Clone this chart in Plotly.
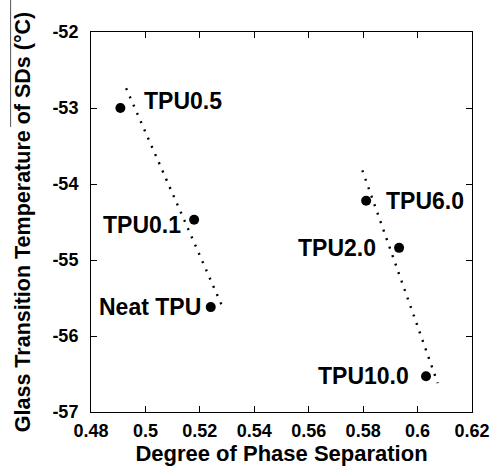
import plotly.graph_objects as go

# Data
sample_names = ["TPU0.5", "TPU0.1", "Neat TPU", "TPU6.0", "TPU2.0", "TPU10.0"]
phase_sep = [0.4908, 0.5179, 0.5240, 0.5811, 0.5932, 0.6031]
tg_sd = [-53.00, -54.47, -55.62, -54.22, -54.84, -56.53]

# Trend lines (two groups)
trend1_x = [0.4929, 0.5286]
trend1_y = [-52.74, -55.64]
trend2_x = [0.5797, 0.6074]
trend2_y = [-53.82, -56.62]

x_ticks = [0.48, 0.50, 0.52, 0.54, 0.56, 0.58, 0.60, 0.62]
y_ticks = [-57, -56, -55, -54, -53, -52]

# label placement (anchor, xshift px, yshift px)
label_pos = {
    "TPU0.5": ("left", 22, 7),
    "TPU0.1": ("right", -11, -5),
    "Neat TPU": ("right", -8, 0),
    "TPU6.0": ("left", 18, 0),
    "TPU2.0": ("right", -21, 0),
    "TPU10.0": ("right", -15, 0),
}

FONT = "Liberation Sans, Arial, sans-serif"

fig = go.Figure()
dot = dict(color="black", width=2.4, dash="2px,7px")
fig.add_trace(go.Scatter(x=trend1_x, y=trend1_y, mode="lines", line=dot,
                         hoverinfo="skip", showlegend=False))
fig.add_trace(go.Scatter(x=trend2_x, y=trend2_y, mode="lines", line=dot,
                         hoverinfo="skip", showlegend=False))
fig.add_trace(go.Scatter(x=phase_sep, y=tg_sd, mode="markers",
                         marker=dict(color="black", size=10),
                         text=sample_names, showlegend=False))

for name, xv, yv in zip(sample_names, phase_sep, tg_sd):
    anc, xs, ys = label_pos[name]
    fig.add_annotation(x=xv, y=yv, text="<b>%s</b>" % name, showarrow=False,
                       xanchor=anc, yanchor="middle", xshift=xs, yshift=ys,
                       font=dict(family=FONT, size=23, color="black"))

axis_common = dict(
    showline=True, linecolor="black", linewidth=1, mirror="ticks",
    ticks="inside", ticklen=6, tickwidth=1, tickcolor="black",
    showgrid=False, zeroline=False, automargin=False,
    tickfont=dict(family=FONT, size=18, color="black"),
)

fig.update_xaxes(range=[0.48, 0.62], tickvals=x_ticks,
                 ticktext=["<b>%s</b>" % (("%g" % v)) for v in x_ticks],
                 ticklabelstandoff=2,
                 title=dict(text="<b>Degree of Phase Separation</b>",
                            font=dict(family=FONT, size=22, color="black"),
                            standoff=6),
                 **axis_common)
fig.update_yaxes(range=[-57, -52], tickvals=y_ticks,
                 ticktext=["<b>%d</b>" % v for v in y_ticks],
                 ticklabelstandoff=8,
                 title=dict(text="<b>Glass Transition Temperature of SDs (°C)</b>",
                            font=dict(family=FONT, size=21.5, color="black"),
                            standoff=15),
                 **axis_common)

# thin overline artifact next to y title
fig.add_shape(type="line", xref="paper", yref="paper",
              x0=-0.211, x1=-0.211, y0=0.75, y1=1.084,
              line=dict(color="#555555", width=1))

fig.update_layout(
    width=492, height=471,
    margin=dict(l=91, r=20, t=32, b=59, autoexpand=False),
    plot_bgcolor="white", paper_bgcolor="white",
    font=dict(family=FONT, color="black"),
)

fig.write_html("out.html",
               config={"displayModeBar": False},
               post_script="document.body.style.margin='0';"
                           "document.body.style.overflow='hidden';")
